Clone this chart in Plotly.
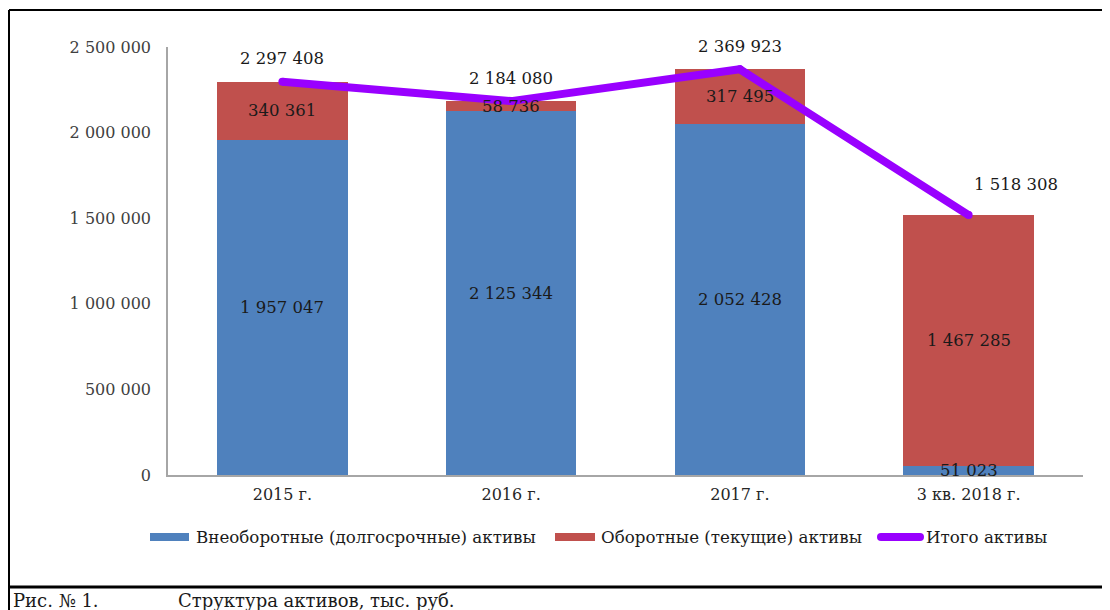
import plotly.graph_objects as go

categories = ["2015 г.", "2016 г.", "2017 г.", "3 кв. 2018 г."]
noncurrent = [1957047, 2125344, 2052428, 51023]
current = [340361, 58736, 317495, 1467285]
total = [2297408, 2184080, 2369923, 1518308]
series_names = ["Внеоборотные (долгосрочные) активы", "Оборотные (текущие) активы", "Итого активы"]
tick_vals = [0, 500000, 1000000, 1500000, 2000000, 2500000]

# the page adds an 8px body margin; figure sized/placed so page pixels match
W, H = 1102, 602
PW, PH = 915, 428
L, T = 160, 39
R, B = W - L - PW, H - T - PH

def px(x):  # page pixel -> paper x
    return (x - 168) / PW

def py(y):  # page pixel -> paper y
    return (475 - y) / PH

BLUE = "#4F81BD"
RED = "#C0504D"
PURPLE = "#9900FF"
FONT = "DejaVu Serif"
TXT = "#1a1a1a"

def fmt(v):
    return f"{v:,}".replace(",", " ")

fig = go.Figure()
fig.add_trace(go.Bar(x=categories, y=noncurrent, name=series_names[0], marker=dict(color=BLUE, line=dict(width=0)), width=0.57))
fig.add_trace(go.Bar(x=categories, y=current, name=series_names[1], marker=dict(color=RED, line=dict(width=0)), width=0.57))
fig.add_trace(go.Scatter(x=categories, y=total, name=series_names[2], mode="lines+markers",
                         line=dict(color=PURPLE, width=8), marker=dict(color=PURPLE, size=8)))

ann = []
for c, a, b in zip(categories, noncurrent, current):
    ann.append(dict(x=c, y=a / 2, text=fmt(a), showarrow=False, xref="x", yref="y",
                    font=dict(family=FONT, size=16.5, color=TXT)))
    ann.append(dict(x=c, y=a + b / 2, text=fmt(b), showarrow=False, xref="x", yref="y",
                    font=dict(family=FONT, size=16.5, color=TXT)))
for i, (c, t) in enumerate(zip(categories, total)):
    last = i == len(categories) - 1
    ann.append(dict(x=c, y=t, text=fmt(t), showarrow=False, xref="x", yref="y",
                    xshift=47 if last else 0, yshift=31 if last else 23,
                    font=dict(family=FONT, size=16.5, color=TXT)))

# custom legend
shapes = []
leg_y = 537
shapes.append(dict(type="rect", xref="paper", yref="paper", x0=px(150), x1=px(189), y0=py(541), y1=py(533),
                   fillcolor=BLUE, line=dict(width=0)))
shapes.append(dict(type="rect", xref="paper", yref="paper", x0=px(555), x1=px(595), y0=py(541), y1=py(533),
                   fillcolor=RED, line=dict(width=0)))
shapes.append(dict(type="line", xref="paper", yref="paper", x0=px(881), x1=px(920), y0=py(leg_y), y1=py(leg_y),
                   line=dict(color=PURPLE, width=8)))
for xx in (881, 920):
    shapes.append(dict(type="circle", xref="paper", yref="paper", x0=px(xx - 4), x1=px(xx + 4), y0=py(leg_y + 4), y1=py(leg_y - 4),
                       fillcolor=PURPLE, line=dict(width=0)))
for xx, name in zip((194, 599, 924), series_names):
    ann.append(dict(x=px(xx), y=py(leg_y), xref="paper", yref="paper", text=name, showarrow=False,
                    xanchor="left", yanchor="middle", font=dict(family=FONT, size=16.7, color=TXT)))

# borders
border = dict(color="black", width=2)
shapes.append(dict(type="line", xref="paper", yref="paper", x0=px(9), x1=px(1107), y0=py(10), y1=py(10), line=border))
shapes.append(dict(type="line", xref="paper", yref="paper", x0=px(1107), x1=px(1107), y0=py(10), y1=py(587), line=border))
shapes.append(dict(type="line", xref="paper", yref="paper", x0=px(9), x1=px(9), y0=py(10), y1=py(612), line=border))
shapes.append(dict(type="line", xref="paper", yref="paper", x0=px(9), x1=px(1112), y0=py(587), y1=py(587), line=dict(color="black", width=3)))

# caption
ann.append(dict(x=px(11), y=py(588), xref="paper", yref="paper", text="Рис. № 1.", showarrow=False,
                xanchor="left", yanchor="top", font=dict(family=FONT, size=18, color=TXT)))
ann.append(dict(x=px(176), y=py(588), xref="paper", yref="paper", text="Структура активов, тыс. руб.", showarrow=False,
                xanchor="left", yanchor="top", font=dict(family=FONT, size=18, color=TXT)))

fig.update_layout(
    width=W, height=H, margin=dict(l=L, r=R, t=T, b=B, autoexpand=False),
    barmode="stack", showlegend=False, paper_bgcolor="white", plot_bgcolor="white",
    separators=", ", annotations=ann, shapes=shapes,
    font=dict(family=FONT, size=16, color="#404040"),
)
fig.update_xaxes(range=[-0.5, 3.5], showline=True, linecolor="#A6A6A6", linewidth=1.5, showgrid=False,
                 ticks="", tickfont=dict(family=FONT, size=16, color="#262626"), ticklabelstandoff=4)
fig.update_yaxes(range=[0, 2500000], tickvals=tick_vals, tickformat=",d", showline=True, linecolor="#A6A6A6",
                 linewidth=1.5, showgrid=False, zeroline=False, ticks="", ticklabelstandoff=12,
                 tickfont=dict(family=FONT, size=16, color="#404040"))

fig.write_html("out.html")
